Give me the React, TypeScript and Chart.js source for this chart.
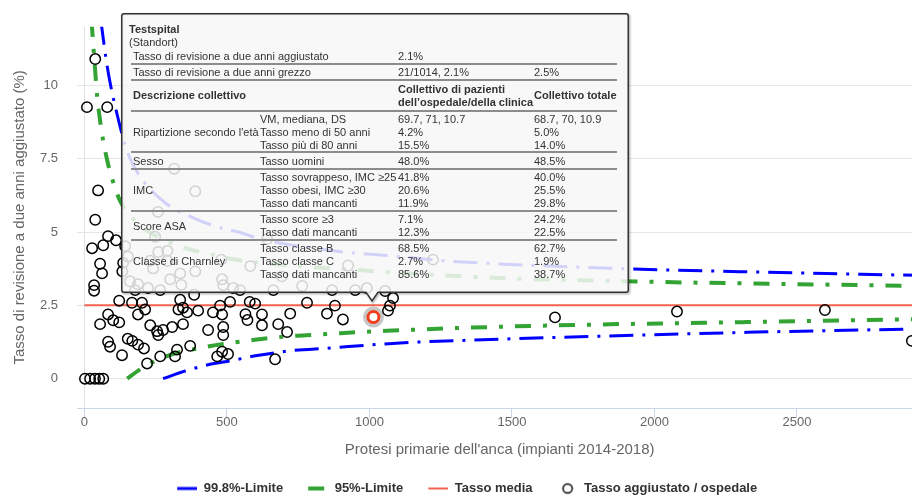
import React, { useEffect, useRef } from 'react';
import { Chart, registerables } from 'chart.js';

Chart.register(...registerables);

// ---------- data ----------
const hospitalX = [
  38, 9, 80, 48, 38, 83, 111, 66, 27, 55, 62, 34, 34, 136, 122, 83, 55, 101, 122, 83, 90, 152, 132, 2, 20, 37, 52, 66,
  167, 202, 213, 188, 231, 255, 259, 276, 308, 346, 330, 360, 346, 399, 336, 385, 168, 188, 209, 220, 266, 318, 325, 371,
  434, 451, 483, 476, 511, 487, 487, 466, 483, 504, 565, 572, 599, 623, 623, 580, 722, 680, 711, 669, 781, 851, 879, 907,
  1065, 1072, 1083,
  1651, 2079, 2598, 2903,
  315, 389, 258, 248, 143, 259, 291, 153, 231, 291, 241, 336, 301, 160, 188, 223, 178, 266, 340, 389, 483, 487, 522, 546,
  480, 582, 641, 693, 925, 663, 764, 869, 950, 991, 1055, 1223, 133,
];
const hospitalY = [
  10.9, 9.26, 9.26, 6.42, 5.42, 4.86, 4.72, 4.55, 4.45, 3.92, 3.59, 3.19, 3.0, 3.95, 2.66, 2.19, 1.86, 1.99, 1.92, 1.26, 1.09, 1.36, 0.8, 0, 0, 0, 0, 0,
  2.59, 2.59, 2.36, 2.19, 1.82, 1.62, 1.49, 1.66, 1.76, 1.86, 2.36, 2.26, 2.42, 2.32, 2.69, 2.86, 1.29, 1.16, 1.03, 0.52, 0.76, 0.76, 0.99, 1.12,
  1.66, 2.26, 2.19, 2.49, 2.62, 1.76, 1.49, 0.76, 0.92, 0.84, 2.2, 2.0, 2.56, 2.19, 1.82, 2.62, 2.22, 1.86, 1.59, 0.66, 2.59, 2.22, 2.49, 2.02,
  2.32, 2.49, 2.75,
  2.09, 2.29, 2.34, 1.29,
  7.16, 6.39, 5.69, 4.84, 4.52, 4.32, 4.36, 4.16, 4.02, 4.02, 3.76, 3.59, 3.39, 3.32, 3.22, 3.09, 3.02, 3.02, 3.2, 3.66, 3.39, 3.19, 3.09, 3.02,
  4.06, 3.84, 4.76, 3.49, 3.86, 3.02, 3.16, 3.02, 3.02, 3.09, 2.99, 4.06, 3.66,
];

const highlightX = [1014];
const highlightY = [2.1];

const limit998UpperX = [58, 62, 76, 90, 115, 136, 150, 188, 283, 378, 459, 540, 624, 908, 1037, 1294, 1868, 2300, 2940];
const limit998UpperY = [12.2, 11.9, 10.9, 10.1, 9.0, 8.2, 7.75, 7.0, 6.0, 5.5, 5.2, 5.0, 4.75, 4.32, 4.22, 4.0, 3.76, 3.65, 3.52];
const limit998LowerX = [276, 353, 441, 518, 606, 732, 851, 991, 1107, 1318, 1739, 2325, 2940];
const limit998LowerY = [0, 0.26, 0.49, 0.62, 0.79, 0.96, 1.04, 1.14, 1.22, 1.3, 1.43, 1.58, 1.7];
const limit95UpperX = [25, 34, 40, 45, 55, 66, 80, 90, 101, 126, 200, 290, 354, 434, 518, 582, 1027, 1413, 1855, 2940];
const limit95UpperY = [12.2, 11.0, 10.2, 9.6, 8.8, 8.1, 7.45, 7.05, 6.7, 6.05, 5.2, 4.69, 4.45, 4.26, 4.08, 3.99, 3.66, 3.45, 3.33, 3.16];
const limit95LowerX = [150, 196, 283, 430, 501, 592, 722, 851, 967, 1083, 1318, 1763, 2325, 2940];
const limit95LowerY = [0, 0.32, 0.75, 1.09, 1.2, 1.32, 1.45, 1.52, 1.59, 1.64, 1.73, 1.84, 1.93, 2.03];
const meanX = [0, 2940];
const meanY = [2.5, 2.5];

const xTicks = [0, 500, 1000, 1500, 2000, 2500];
const yTicks = [0, 2.5, 5, 7.5, 10];
const xRange = [-26, 2940];
const yRange = [-1, 12];

const xTitle = "Protesi primarie dell'anca (impianti 2014-2018)";
const yTitle = 'Tasso di revisione a due anni aggiustato (%)';
const legendLabels = ['99.8%-Limite', '95%-Limite', 'Tasso media', 'Tasso aggiustato / ospedale'];

const tooltipTitle = 'Testspital';
const tooltipSubtitle = '(Standort)';
const tooltipTopRows = [
  ['Tasso di revisione a due anni aggiustato', '2.1%', ''],
  ['Tasso di revisione a due anni grezzo', '21/1014, 2.1%', '2.5%'],
];
const tooltipHeader = ['Descrizione collettivo', 'Collettivo di pazienti', 'dell’ospedale/della clinica', 'Collettivo totale'];
const tooltipGroups = [
  {
    name: "Ripartizione secondo l'età",
    rows: [
      ['VM, mediana, DS', '69.7, 71, 10.7', '68.7, 70, 10.9'],
      ['Tasso meno di 50 anni', '4.2%', '5.0%'],
      ['Tasso più di 80 anni', '15.5%', '14.0%'],
    ],
  },
  { name: 'Sesso', rows: [['Tasso uomini', '48.0%', '48.5%']] },
  {
    name: 'IMC',
    rows: [
      ['Tasso sovrappeso, IMC ≥25', '41.8%', '40.0%'],
      ['Tasso obesi, IMC ≥30', '20.6%', '25.5%'],
      ['Tasso dati mancanti', '11.9%', '29.8%'],
    ],
  },
  {
    name: 'Score ASA',
    rows: [
      ['Tasso score ≥3', '7.1%', '24.2%'],
      ['Tasso dati mancanti', '12.3%', '22.5%'],
    ],
  },
  {
    name: 'Classe di Charnley',
    rows: [
      ['Tasso classe B', '68.5%', '62.7%'],
      ['Tasso classe C', '2.7%', '1.9%'],
      ['Tasso dati mancanti', '85.6%', '38.7%'],
    ],
  },
];

// ---------- styles ----------
const FONT = "'Liberation Sans', Arial, Helvetica, sans-serif";
const BLUE = '#0000ff';
const GREEN = '#33a333';
const SALMON = '#f2634f';
const LEGEND_BOX = 32;
const LEGEND_PAD = 13;

const pts = (xs: number[], ys: number[]) => xs.map((x, i) => ({ x, y: ys[i] }));

function makeSymbol(kind: string): HTMLCanvasElement {
  const c = document.createElement('canvas');
  c.width = LEGEND_BOX;
  c.height = 14;
  const g = c.getContext('2d')!;
  const s = LEGEND_BOX - 20;
  g.lineCap = 'butt';
  if (kind === 'blue') {
    g.strokeStyle = BLUE; g.lineWidth = 3;
    g.beginPath(); g.moveTo(s, 7); g.lineTo(s + 20, 7); g.stroke();
  } else if (kind === 'green') {
    g.strokeStyle = GREEN; g.lineWidth = 4;
    g.beginPath(); g.moveTo(s, 7); g.lineTo(s + 16, 7); g.stroke();
  } else if (kind === 'mean') {
    g.strokeStyle = SALMON; g.lineWidth = 2;
    g.beginPath(); g.moveTo(s, 7); g.lineTo(s + 20, 7); g.stroke();
  } else {
    g.strokeStyle = '#000'; g.lineWidth = 1.5;
    g.beginPath(); g.arc(s + 10, 7, 4.6, 0, Math.PI * 2); g.stroke();
  }
  return c;
}

const cell: React.CSSProperties = {
  padding: '0 2px',
  whiteSpace: 'nowrap',
  verticalAlign: 'top',
  lineHeight: '12.8px',
  overflow: 'visible',
};
const SEP = '2px solid #8c8c8c';

function Tooltip() {
  const left = 121, top = 13, w = 508, h = 280;
  const ax = 372 - left; // anchor x (local)
  const path = `M3,0.75 H${w - 3} Q${w - 0.75},0.75 ${w - 0.75},3 V${h - 3} Q${w - 0.75},${h - 0.75} ${w - 3},${h - 0.75} H${ax + 6} L${ax},${h + 8} L${ax - 6},${h - 0.75} H3 Q0.75,${h - 0.75} 0.75,${h - 3} V3 Q0.75,0.75 3,0.75 Z`;
  return (
    <>
      <svg width={w + 8} height={h + 16} style={{ position: 'absolute', left, top, overflow: 'visible' }}>
        <g transform="translate(1,1)" fill="none">
          <path d={path} stroke="rgba(0,0,0,0.05)" strokeWidth={5} />
          <path d={path} stroke="rgba(0,0,0,0.1)" strokeWidth={3} />
          <path d={path} stroke="rgba(0,0,0,0.15)" strokeWidth={1} />
        </g>
        <path d={path} fill="rgba(247,247,247,0.85)" stroke="#333" strokeWidth={1.5} />
      </svg>
      <div
        style={{
          position: 'absolute',
          left: 129,
          top: 22.5,
          fontFamily: FONT,
          fontSize: 11,
          color: '#333',
        }}
      >
        <div style={{ fontWeight: 'bold', lineHeight: '13px' }}>{tooltipTitle}</div>
        <div style={{ lineHeight: '13px' }}>{tooltipSubtitle}</div>
        <table
          style={{
            borderCollapse: 'separate',
            borderSpacing: 0,
            tableLayout: 'fixed',
            width: 486,
            marginLeft: 2,
            fontSize: 11,
            color: '#333',
          }}
        >
          <colgroup>
            <col style={{ width: 127 }} />
            <col style={{ width: 138 }} />
            <col style={{ width: 136 }} />
            <col style={{ width: 85 }} />
          </colgroup>
          <tbody>
            {tooltipTopRows.map((r, i) => (
              <tr key={'t' + i}>
                <td colSpan={2} style={{ ...cell, paddingTop: 1.5, borderBottom: SEP }}>{r[0]}</td>
                <td style={{ ...cell, paddingTop: 1.5, borderBottom: SEP }}>{r[1]}</td>
                <td style={{ ...cell, paddingTop: 1.5, borderBottom: SEP }}>{r[2]}</td>
              </tr>
            ))}
            <tr>
              <td colSpan={2} style={{ ...cell, fontWeight: 'bold', verticalAlign: 'middle', paddingTop: 1.5, borderBottom: SEP, lineHeight: '13.5px' }}>
                {tooltipHeader[0]}
              </td>
              <td style={{ ...cell, fontWeight: 'bold', paddingTop: 1.5, borderBottom: SEP, lineHeight: '13.5px' }}>
                {tooltipHeader[1]}
                <br />
                {tooltipHeader[2]}
              </td>
              <td style={{ ...cell, fontWeight: 'bold', verticalAlign: 'middle', paddingTop: 1.5, borderBottom: SEP, lineHeight: '13.5px' }}>
                {tooltipHeader[3]}
              </td>
            </tr>
            {tooltipGroups.map((g, gi) =>
              g.rows.map((r, ri) => {
                const first = ri === 0;
                const last = ri === g.rows.length - 1;
                const hasSep = gi < tooltipGroups.length - 1;
                const st: React.CSSProperties = {
                  ...cell,
                  paddingTop: first ? 1.5 : 0,
                  borderBottom: last && hasSep ? SEP : 'none',
                };
                return (
                  <tr key={gi + '-' + ri}>
                    {first && (
                      <td
                        rowSpan={g.rows.length}
                        style={{ ...cell, paddingTop: 1.5, verticalAlign: 'middle', borderBottom: hasSep ? SEP : 'none' }}
                      >
                        {g.name}
                      </td>
                    )}
                    <td style={st}>{r[0]}</td>
                    <td style={st}>{r[1]}</td>
                    <td style={st}>{r[2]}</td>
                  </tr>
                );
              })
            )}
          </tbody>
        </table>
      </div>
    </>
  );
}

export default function App() {
  const ref = useRef<HTMLCanvasElement>(null);

  useEffect(() => {
    if (!ref.current) return;
    Chart.defaults.font.family = FONT;
    const symbols = [makeSymbol('blue'), makeSymbol('green'), makeSymbol('mean'), makeSymbol('circle')];
    const legendDatasets = [0, 2, 4, 5];

    const lineBase = {
      showLine: true,
      pointRadius: 0,
      pointHoverRadius: 0,
      fill: false,
      cubicInterpolationMode: 'monotone' as const,
      borderCapStyle: 'butt' as const,
    };

    const chart = new Chart(ref.current, {
      type: 'scatter',
      data: {
        datasets: [
          { ...lineBase, label: legendLabels[0], data: pts(limit998UpperX, limit998UpperY), borderColor: BLUE, borderWidth: 3, borderDash: [24, 9, 3, 9], order: 5 },
          { ...lineBase, label: legendLabels[0] + ' low', data: pts(limit998LowerX, limit998LowerY), borderColor: BLUE, borderWidth: 3, borderDash: [24, 9, 3, 9], order: 5 },
          { ...lineBase, label: legendLabels[1], data: pts(limit95UpperX, limit95UpperY), borderColor: GREEN, borderWidth: 4, borderDash: [16, 12, 4, 12], order: 4 },
          { ...lineBase, label: legendLabels[1] + ' low', data: pts(limit95LowerX, limit95LowerY), borderColor: GREEN, borderWidth: 4, borderDash: [16, 12, 4, 12], order: 4 },
          { ...lineBase, label: legendLabels[2], data: pts(meanX, meanY), borderColor: SALMON, borderWidth: 2, order: 3 },
          {
            label: legendLabels[3],
            data: pts(hospitalX, hospitalY),
            pointRadius: 5.2,
            pointBorderWidth: 1.5,
            pointBorderColor: '#000',
            pointBackgroundColor: 'rgba(0,0,0,0)',
            order: 2,
          },
          {
            label: 'halo',
            data: pts(highlightX, highlightY),
            pointRadius: 10.5,
            pointBorderWidth: 0,
            pointBorderColor: 'rgba(0,0,0,0)',
            pointBackgroundColor: 'rgba(0,0,0,0.22)',
            order: 1,
          },
          {
            label: 'highlight',
            data: pts(highlightX, highlightY),
            pointRadius: 5.5,
            pointBorderWidth: 3,
            pointBorderColor: '#f2401d',
            pointBackgroundColor: '#ffffff',
            order: 0,
          },
        ],
      },
      options: {
        animation: false,
        responsive: false,
        events: [],
        layout: { padding: { top: 18, right: 14.6, left: 0, bottom: 0 } },
        plugins: {
          tooltip: { enabled: false },
          legend: {
            display: true,
            position: 'bottom',
            labels: {
              usePointStyle: true,
              pointStyleWidth: LEGEND_BOX,
              padding: LEGEND_PAD,
              color: '#333',
              font: { size: 13, weight: 'bold' },
              generateLabels: () =>
                legendLabels.map((text, i) => ({
                  text,
                  pointStyle: symbols[i] as any,
                  fillStyle: 'rgba(0,0,0,0)',
                  strokeStyle: 'rgba(0,0,0,0)',
                  lineWidth: 0,
                  hidden: false,
                  datasetIndex: legendDatasets[i],
                  fontColor: '#333',
                })),
            },
          },
        },
        scales: {
          x: {
            type: 'linear',
            min: xRange[0],
            max: xRange[1],
            afterBuildTicks: (s: any) => {
              s.ticks = xTicks.map((v) => ({ value: v }));
            },
            afterFit: (s: any) => {
              s.height = 61;
            },
            grid: {
              drawOnChartArea: true,
              color: (ctx: any) => (ctx.tick && ctx.tick.value === 0 ? '#dde2ea' : 'rgba(0,0,0,0)'),
              tickColor: '#ccd6eb',
              tickLength: 10,
              lineWidth: 1,
            },
            border: { display: true, color: '#ccd6eb', width: 1 },
            ticks: {
              color: '#666',
              font: { size: 13 },
              padding: -3,
              maxRotation: 0,
              autoSkip: false,
              callback: (v: any) => String(v),
            },
            title: {
              display: true,
              text: xTitle,
              color: '#666',
              font: { size: 15 },
              padding: { top: 0, bottom: 10.6 },
            },
          },
          y: {
            type: 'linear',
            min: yRange[0],
            max: yRange[1],
            afterBuildTicks: (s: any) => {
              s.ticks = yTicks.map((v) => ({ value: v }));
            },
            afterFit: (s: any) => {
              s.width = 77;
            },
            grid: { color: '#e6e6e6', drawTicks: false, lineWidth: 1 },
            border: { display: false },
            ticks: {
              color: '#666',
              font: { size: 13 },
              padding: 19,
              callback: (v: any) => String(v),
            },
            title: {
              display: true,
              text: yTitle,
              color: '#666',
              font: { size: 15 },
              padding: { top: 11, bottom: 0 },
            },
          },
        },
      },
    });
    return () => chart.destroy();
  }, []);

  return (
    <div
      style={{
        position: 'absolute',
        left: 0,
        top: 0,
        width: 912,
        height: 495,
        overflow: 'hidden',
        background: '#fff',
        fontFamily: FONT,
      }}
    >
      <canvas ref={ref} width={937} height={505} style={{ position: 'absolute', left: 0, top: 0, width: 937, height: 505 }} />
      <Tooltip />
    </div>
  );
}
